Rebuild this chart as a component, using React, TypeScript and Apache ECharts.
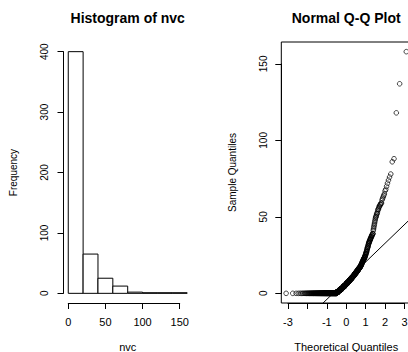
import React, { useEffect, useRef } from "react";
import * as echarts from "echarts";

// ---- data ----
const histTitle = "Histogram of nvc";
const qqTitle = "Normal Q-Q Plot";
const histBreaks = [0, 20, 40, 60, 80, 100, 120, 140, 160];
const histCounts = [400, 65, 25, 12, 2, 1, 1, 1];
const histXTicks = [0, 50, 100, 150];
const histYTicks = [0, 100, 200, 300, 400];

// nvc sample: distinct values and how many times each occurs
const nvcValues = [
  0, 1, 2, 3, 4, 5, 6, 7, 8, 9, 10, 11, 12, 13, 14, 15, 16, 17, 18, 19,
  20, 21, 22, 23, 24, 25, 26, 27, 28, 29, 30, 31, 32, 33, 34, 35, 36, 37, 38, 39,
  41, 42, 43, 44, 45, 46, 47, 48, 49, 50, 51, 52, 53, 54, 55, 56, 57, 58, 59,
  61, 62, 63, 64, 65, 67, 68, 70, 72, 74, 76, 78,
  86, 88, 118, 137, 158,
];
const nvcCounts = [
  158, 20, 18, 17, 16, 16, 15, 15, 14, 14, 13, 13, 11, 11, 10, 10, 9, 9, 6, 5,
  5, 5, 5, 5, 4, 3, 3, 3, 2, 2, 3, 2, 2, 3, 3, 3, 3, 3, 3, 3,
  1, 1, 1, 1, 1, 1, 1, 1, 1, 2, 1, 2, 1, 1, 2, 1, 2, 2, 2,
  1, 1, 1, 1, 1, 1, 1, 1, 1, 1, 1, 1,
  1, 1, 1, 1, 1,
];
const qqXTicks = [-3, -2, -1, 0, 1, 2, 3];
const qqXHiddenLabels = [-2];
const qqYTicks = [0, 50, 100, 150];

// ---- helpers ----
function qnorm(p: number): number {
  const a = [-3.969683028665376e1, 2.209460984245205e2, -2.759285104469687e2, 1.38357751867269e2, -3.066479806614716e1, 2.506628277459239];
  const b = [-5.447609879822406e1, 1.615858368580409e2, -1.556989798598866e2, 6.680131188771972e1, -1.328068155288572e1];
  const c = [-7.784894002430293e-3, -3.223964580411365e-1, -2.400758277161838, -2.549732539343734, 4.374664141464968, 2.938163982698783];
  const d = [7.784695709041462e-3, 3.224671290700398e-1, 2.445134137142996, 3.754408661907416];
  const plow = 0.02425;
  if (p < plow) {
    const q = Math.sqrt(-2 * Math.log(p));
    return (((((c[0] * q + c[1]) * q + c[2]) * q + c[3]) * q + c[4]) * q + c[5]) / ((((d[0] * q + d[1]) * q + d[2]) * q + d[3]) * q + 1);
  }
  if (p > 1 - plow) {
    const q = Math.sqrt(-2 * Math.log(1 - p));
    return -(((((c[0] * q + c[1]) * q + c[2]) * q + c[3]) * q + c[4]) * q + c[5]) / ((((d[0] * q + d[1]) * q + d[2]) * q + d[3]) * q + 1);
  }
  const q = p - 0.5;
  const r = q * q;
  return ((((((a[0] * r + a[1]) * r + a[2]) * r + a[3]) * r + a[4]) * r + a[5]) * q) / (((((b[0] * r + b[1]) * r + b[2]) * r + b[3]) * r + b[4]) * r + 1);
}
function quantile7(sorted: number[], p: number) {
  const h = (sorted.length - 1) * p;
  const lo = Math.floor(h);
  const hi = Math.min(lo + 1, sorted.length - 1);
  return sorted[lo] + (h - lo) * (sorted[hi] - sorted[lo]);
}
function pad(lo: number, hi: number): [number, number] {
  const e = (hi - lo) * 0.04;
  return [lo - e, hi + e];
}

const FONT = "Liberation Sans, Arial, sans-serif";

export default function App() {
  const ref = useRef<HTMLDivElement>(null);
  useEffect(() => {
    if (!ref.current) return;
    const chart = echarts.init(ref.current, undefined, { renderer: "svg" });

    // sample & theoretical quantiles
    const sample: number[] = [];
    nvcValues.forEach((v, i) => {
      for (let k = 0; k < nvcCounts[i]; k++) sample.push(v);
    });
    sample.sort((x, y) => x - y);
    const n = sample.length;
    const theo = sample.map((_, i) => qnorm((i + 1 - 0.5) / n));
    const qqPoints = sample.map((v, i) => [theo[i], v]);
    const y1 = quantile7(sample, 0.25);
    const y2 = quantile7(sample, 0.75);
    const x1 = qnorm(0.25);
    const x2 = qnorm(0.75);
    const slope = (y2 - y1) / (x2 - x1);
    const icpt = y1 - slope * x1;

    // ranges (R style, 4% padding)
    const hX = pad(histBreaks[0], histBreaks[histBreaks.length - 1]);
    const hY = pad(0, Math.max(...histCounts));
    const qX = pad(theo[0], theo[n - 1]);
    const qY = pad(sample[0], sample[n - 1]);
    const qqLine = [qX[0], qX[1]].map((x) => [x, icpt + slope * x]);

    // layout of the two plot regions
    const hBox = { left: 63.5, top: 42, width: 128.4, height: 261 };
    const qBox = { left: 281.3, top: 42, width: 129.8, height: 261 };

    const axisGrid = (box: any, xr: number[], yr: number[], xt: number[], yt: number[]) => {
      const px = (v: number) => box.left + ((v - xr[0]) / (xr[1] - xr[0])) * box.width;
      const py = (v: number) => box.top + ((yr[1] - v) / (yr[1] - yr[0])) * box.height;
      const l = px(xt[0]);
      const r = px(xt[xt.length - 1]);
      const t = py(yt[yt.length - 1]);
      const b = py(yt[0]);
      return {
        grid: { left: l, top: t, width: r - l, height: b - t, show: false, containLabel: false, outerBoundsMode: "none" },
        xOffset: box.top + box.height - b,
        yOffset: l - box.left,
      };
    };
    const hA = axisGrid(hBox, hX, hY, histXTicks, histYTicks);
    const qA = axisGrid(qBox, qX, qY, qqXTicks, qqYTicks);

    const hidden = {
      axisLine: { show: false },
      axisTick: { show: false },
      axisLabel: { show: false },
      splitLine: { show: false },
    };
    const shown = (fontSize: number, margin: number, rotate = 0, formatter?: any) => ({
      axisLine: { show: true, onZero: false, lineStyle: { color: "#000", width: 1 } },
      axisTick: { show: true, length: 6, lineStyle: { color: "#000", width: 1 } },
      axisLabel: { show: true, color: "#000", fontFamily: FONT, fontSize, margin, rotate, formatter },
      splitLine: { show: false },
    });
    const nameStyle = (fontSize: number) => ({ color: "#000", fontFamily: FONT, fontSize });

    const histData = histCounts.map((c, i) => [histBreaks[i], histBreaks[i + 1], c]);

    chart.setOption({
      animation: false,
      backgroundColor: "#fff",
      grid: [
        { left: hBox.left, top: hBox.top, width: hBox.width, height: hBox.height, show: false, containLabel: false, outerBoundsMode: "none" },
        hA.grid,
        {
          left: qBox.left, top: qBox.top, width: qBox.width, height: qBox.height, show: true, borderColor: "#000", borderWidth: 1,
          backgroundColor: "transparent", containLabel: false, outerBoundsMode: "none",
        },
        qA.grid,
      ],
      xAxis: [
        { gridIndex: 0, type: "value", min: hX[0], max: hX[1], ...hidden, name: "nvc", nameLocation: "middle", nameGap: 38, nameTextStyle: nameStyle(11) },
        { gridIndex: 1, type: "value", min: histXTicks[0], max: histXTicks[histXTicks.length - 1], interval: histXTicks[1] - histXTicks[0], offset: hA.xOffset, ...shown(11, 13) },
        { gridIndex: 2, type: "value", min: qX[0], max: qX[1], ...hidden, name: "Theoretical Quantiles", nameLocation: "middle", nameGap: 38, nameTextStyle: nameStyle(11) },
        {
          gridIndex: 3, type: "value", min: qqXTicks[0], max: qqXTicks[qqXTicks.length - 1], interval: qqXTicks[1] - qqXTicks[0], offset: qA.xOffset,
          ...shown(11, 13, 0, (v: number) => (qqXHiddenLabels.includes(v) ? "" : String(v))),
        },
      ],
      yAxis: [
        { gridIndex: 0, type: "value", min: hY[0], max: hY[1], ...hidden, name: "Frequency", nameLocation: "middle", nameGap: 45, nameTextStyle: nameStyle(10) },
        { gridIndex: 1, type: "value", min: histYTicks[0], max: histYTicks[histYTicks.length - 1], interval: histYTicks[1] - histYTicks[0], offset: hA.yOffset, ...shown(10, 14, 90) },
        { gridIndex: 2, type: "value", min: qY[0], max: qY[1], ...hidden, name: "Sample Quantiles", nameLocation: "middle", nameGap: 44, nameTextStyle: nameStyle(10) },
        { gridIndex: 3, type: "value", min: qqYTicks[0], max: qqYTicks[qqYTicks.length - 1], interval: qqYTicks[1] - qqYTicks[0], offset: qA.yOffset, ...shown(10, 13, 90) },
      ],
      graphic: [
        { type: "text", x: hBox.left + hBox.width / 2, y: 18, style: { text: histTitle, font: `bold 14px ${FONT}`, fill: "#000", textAlign: "center", textVerticalAlign: "middle" } },
        { type: "text", x: qBox.left + qBox.width / 2, y: 18, style: { text: qqTitle, font: `bold 14px ${FONT}`, fill: "#000", textAlign: "center", textVerticalAlign: "middle" } },
      ],
      series: [
        {
          type: "custom",
          xAxisIndex: 0,
          yAxisIndex: 0,
          data: histData,
          renderItem: (params: any, api: any) => {
            const p0 = api.coord([api.value(0), api.value(2)]);
            const p1 = api.coord([api.value(1), 0]);
            return {
              type: "rect",
              shape: { x: p0[0], y: p0[1], width: p1[0] - p0[0], height: p1[1] - p0[1] },
              style: { fill: "#fff", stroke: "#000", lineWidth: 1 },
            };
          },
        },
        {
          type: "scatter",
          xAxisIndex: 2,
          yAxisIndex: 2,
          data: qqPoints,
          symbol: "circle",
          symbolSize: 4.6,
          itemStyle: { color: "rgba(0,0,0,0)", borderColor: "#000", borderWidth: 0.9 },
        },
        {
          type: "line",
          xAxisIndex: 2,
          yAxisIndex: 2,
          data: qqLine,
          symbol: "none",
          clip: true,
          lineStyle: { color: "#000", width: 1 },
        },
      ],
    });
    return () => chart.dispose();
  }, []);
  return <div ref={ref} style={{ position: "fixed", left: 0, top: 0, width: 408, height: 352, background: "#fff" }} />;
}
